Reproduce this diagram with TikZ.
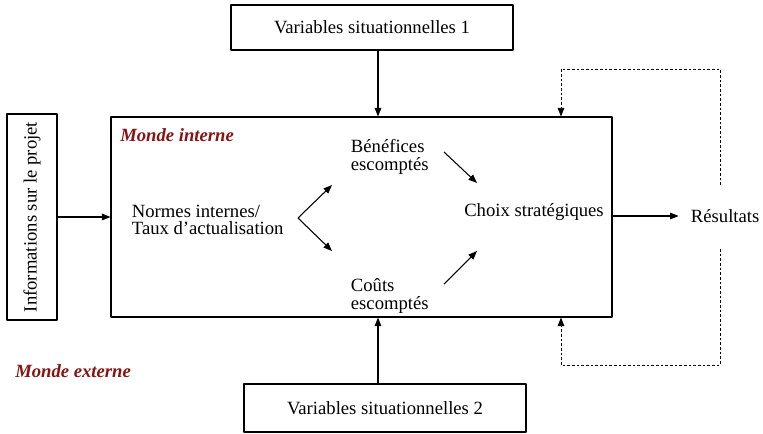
\documentclass[tikz,border=0pt]{standalone}
\usepackage{fontspec}
\setmainfont{Liberation Serif}
\usetikzlibrary{arrows.meta}
\definecolor{mondered}{RGB}{135,20,20}
\tikzset{
  txt/.style={font=\fontsize{14}{13}\selectfont, inner sep=2pt},
  box/.style={txt, draw, line width=0.8pt},
  world/.style={font=\fontsize{14}{14}\selectfont\bfseries\itshape, text=mondered, inner sep=0pt},
  fb/.style={->, dash pattern=on 2pt off 1.5pt, line width=0.7pt}
}
\begin{document}
\begin{tikzpicture}[x=0.75pt, y=-0.75pt, line join=round, >={Triangle[length=6.5pt,width=5pt]}]
	\useasboundingbox (0,0) rectangle (763,433);
	% cadres
	\node[box, minimum width=211.5pt, minimum height=33.75pt] (var1) at (372,27.5) {Variables situationnelles 1};
	\node[box, minimum width=211.5pt, minimum height=36pt] (var2) at (385,408) {Variables situationnelles 2};
	\node[draw, line width=0.8pt, minimum width=375.75pt, minimum height=150pt] (monde) at (361.5,217) {};
	\node[box, rotate=90, minimum width=154.5pt, minimum height=37.5pt] (info) at (32,217) {Informations sur le projet};
	\node[world, anchor=west] (interne) at (120,135) {Monde interne};
	\node[world, anchor=west] (externe) at (15,371) {Monde externe};
	% textes
	\node[txt, align=left, anchor=west] (normes) at (129,220) {Normes internes/\\Taux d'actualisation};
	\node[txt, align=left, anchor=west] (benef) at (348,157) {Bénéfices\\escomptés};
	\node[txt, align=left, anchor=west] (couts) at (348,296) {Coûts\\escomptés};
	\node[txt] (choix) at (534,212) {Choix stratégiques};
	\node[txt, anchor=west] (result) at (688,216) {Résultats};
	% fleches
	\coordinate (mid) at (378,0);
	\draw[->, line width=0.8pt] (var1.south -| mid) -- (monde.north -| mid);
	\draw[->, line width=0.8pt] (var2.north -| mid) -- (monde.south -| mid);
	\draw[->, line width=0.8pt] (info) -- (monde.west);
	\coordinate (fork) at (298,218);
	\coordinate (up) at (332,185);
	\coordinate (dn) at (332,251);
	\draw[->, line width=0.8pt] (fork) -- (up);
	\draw[->, line width=0.8pt] (fork) -- (dn);
	\coordinate (b1) at (444,152); \coordinate (b2) at (477,183);
	\coordinate (c1) at (444,284); \coordinate (c2) at (477,251);
	\draw[->, line width=0.8pt] (b1) -- (b2);
	\draw[->, line width=0.8pt] (c1) -- (c2);
	\draw[->, line width=0.8pt, shorten >=7pt] (monde.east |- result) -- (result.west);
	% retroaction
	\coordinate (fbtop) at (720,185); \coordinate (fbbot) at (720,249);
	\coordinate (fbl) at (561,69); \coordinate (fbr) at (561,365);
	\draw[fb] (fbtop) |- (fbl) -- (fbl |- monde.north);
	\draw[fb] (fbbot) |- (fbr) -- (fbr |- monde.south);
\end{tikzpicture}
\end{document}
